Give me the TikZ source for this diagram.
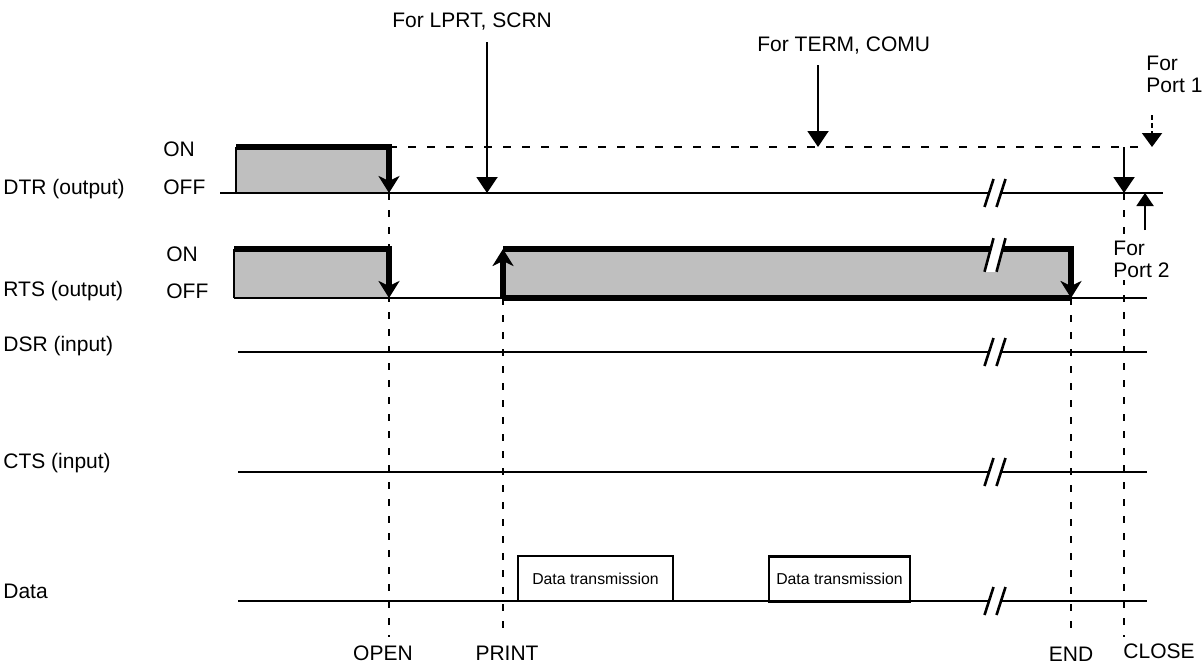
\documentclass[tikz,border=0pt]{standalone}
\usepackage{fontspec}
\setmainfont{Liberation Sans}
\usetikzlibrary{arrows.meta,calc}

\tikzset{
  cut/.pic={
    \fill[white] (-10.5,14) -- (-1.5,-14) -- (10.5,-14) -- (1.5,14) -- cycle;
    \draw[line width=1.3pt] (-10.5,14) -- (-1.5,-14) (1.5,14) -- (10.5,-14);
  }
}

\begin{document}
\begin{tikzpicture}[
  x=0.5pt,y=-0.5pt,
  lbl/.style={anchor=base west, inner sep=0pt, font=\fontsize{10.5}{11}\selectfont, align=left},
  evt/.style={anchor=base, inner sep=0pt, font=\fontsize{10.5}{11}\selectfont},
  xmit/.style={draw, line width=1.4pt, fill=white, inner sep=0pt, minimum height=22.5pt, font=\fontsize{7.9}{9}\selectfont},
  sigline/.style={line width=1pt},
  sigedge/.style={line width=2.6pt},
  sigfall/.style={sigedge, -{Stealth[length=8.5pt,width=10.5pt,inset=2.5pt]}},
  sigrise/.style={sigedge, -{Stealth[length=8.5pt,width=10.5pt,inset=2.5pt]}},
  hint/.style={line width=1pt, -{Triangle[length=8pt,width=10.5pt]}},
  guide/.style={line width=1.2pt, dash pattern=on 3.5pt off 5pt},
  onlevel/.style={line width=1pt, dash pattern=on 4pt off 5.5pt},
  hibox/.style={fill=black!25}
]
\useasboundingbox (0,0) rectangle (1203,664);
% time marks
\coordinate (tLead) at (220,0);
\coordinate (tDtr) at (236,0);
\coordinate (tRts) at (234,0);
\coordinate (tIn) at (238,0);
\coordinate (tOpen) at (389,0);
\coordinate (tLprt) at (487,0);
\coordinate (tPrint) at (503,0);
\coordinate (tTerm) at (818,0);
\coordinate (tCut) at (995,0);
\coordinate (tEnd) at (1071,0);
\coordinate (tClose) at (1124,0);
\coordinate (tPortB) at (1145,0);
\coordinate (tStop) at (1147,0);
\coordinate (tPortA) at (1152,0);
\coordinate (tTail) at (1163,0);
% levels
\coordinate (lLprt) at (0,42);
\coordinate (lTerm) at (0,65);
\coordinate (lPortA) at (0,115);
\coordinate (dtrOn) at (0,147);
\coordinate (dtrOff) at (0,193);
\coordinate (lPortB) at (0,230);
\coordinate (rtsOn) at (0,249);
\coordinate (rtsOff) at (0,298);
\coordinate (dsr) at (0,352);
\coordinate (cts) at (0,472);
\coordinate (data) at (0,601);
\coordinate (lFoot) at (0,637);

% labels
\node[lbl] (nDtr) at (3,194) {DTR (output)};
\node[lbl] (nRts) at (3,296) {RTS (output)};
\node[lbl] (nDsr) at (3,351) {DSR (input)};
\node[lbl] (nCts) at (3,468) {CTS (input)};
\node[lbl] (nData) at (3,598) {Data};
\node[lbl] (nDtrOn) at (163,156) {ON};
\node[lbl] (nDtrOff) at (163,194) {OFF};
\node[lbl] (nRtsOn) at (166,261) {ON};
\node[lbl] (nRtsOff) at (166,298) {OFF};
\node[lbl] (nLprt) at (392,27) {For LPRT, SCRN};
\node[lbl] (nTerm) at (757,51) {For TERM, COMU};
\node[lbl] (nPortA) at (1146,92) {For\\Port 1};
\node[evt] (nOpen) at (383,660) {OPEN};
\node[evt] (nPrint) at (507,660) {PRINT};
\node[evt] (nEnd) at (1071,661) {END};
\node[lbl] (nClose) at (1123,658) {CLOSE};

% pulses
\fill[hibox] (tDtr |- dtrOn) rectangle (tOpen |- dtrOff);
\fill[hibox] (tRts |- rtsOn) rectangle (tOpen |- rtsOff);
\fill[hibox] (tPrint |- rtsOn) rectangle (tEnd |- rtsOff);

% guides
\draw[guide] (tOpen |- dtrOff) -- (tOpen |- lFoot);
\draw[guide] (tPrint |- rtsOff) -- (tPrint |- lFoot);
\draw[guide] (tEnd |- rtsOff) -- (tEnd |- lFoot);
\draw[guide] (tClose |- dtrOff) -- (tClose |- lFoot);
\node[lbl, fill=white, inner sep=1.5pt] (nPortB) at (1110,277) {For\\Port 2};

% DTR
\draw[sigline] (tLead |- dtrOff) -- (tTail |- dtrOff);
\draw[sigline] (tDtr |- dtrOff) -- (tDtr |- dtrOn);
\draw[sigfall] (tDtr |- dtrOn) -- (tOpen |- dtrOn) -- (tOpen |- dtrOff);
\draw[onlevel] (tOpen |- dtrOn) -- (tStop |- dtrOn);
\pic at (tCut |- dtrOff) {cut};

% RTS
\draw[sigline] (tRts |- rtsOff) -- (tStop |- rtsOff);
\draw[sigline] (tRts |- rtsOff) -- (tRts |- rtsOn);
\draw[sigfall] (tRts |- rtsOn) -- (tOpen |- rtsOn) -- (tOpen |- rtsOff);
\draw[sigedge] (tPrint |- rtsOff) -- (tEnd |- rtsOff);
\draw[sigrise] (tPrint |- rtsOff) -- (tPrint |- rtsOn);
\draw[sigfall] (tPrint |- rtsOn) -- (tEnd |- rtsOn) -- (tEnd |- rtsOff);
\pic[yscale=1.2] at ($(tCut |- rtsOn)+(0,6)$) {cut};

% inputs and data
\draw[sigline] (tIn |- dsr) -- (tStop |- dsr);
\pic at (tCut |- dsr) {cut};
\draw[sigline] (tIn |- cts) -- (tStop |- cts);
\pic at (tCut |- cts) {cut};
\draw[sigline] (tIn |- data) -- (tStop |- data);
\pic at (tCut |- data) {cut};
\node[xmit, minimum width=77.5pt] (xA) at (595.5,578.5) {Data transmission};
\node[xmit, minimum width=70.5pt] (xB) at (839.5,579) {Data transmission};

% pointers
\draw[hint] (tLprt |- lLprt) -- (tLprt |- dtrOff);
\draw[hint] (tTerm |- lTerm) -- (tTerm |- dtrOn);
\draw[hint, dash pattern=on 2.5pt off 1.5pt, -{Triangle[length=7pt,width=10pt]}] (tPortA |- lPortA) -- (tPortA |- dtrOn);
\draw[hint] (tClose |- dtrOn) -- (tClose |- dtrOff);
\draw[hint, -{Triangle[length=6.5pt,width=8.5pt]}] (tPortB |- lPortB) -- (tPortB |- dtrOff);
\end{tikzpicture}
\end{document}
